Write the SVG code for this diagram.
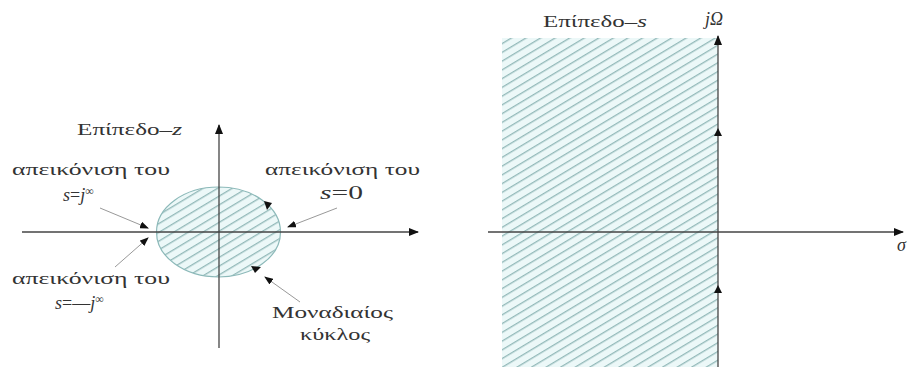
<svg xmlns="http://www.w3.org/2000/svg" width="908" height="367" viewBox="0 0 908 367">
<style>
.t{font-family:"Liberation Serif","DejaVu Serif",serif;font-size:17px;fill:#333}
.f{font-size:18px}
.i{font-style:italic}
.ax{stroke:#444;stroke-width:1.3;fill:none}
.pt{stroke:#999;stroke-width:1;fill:none}
.ah{fill:#111}
</style>
<defs>
<pattern id="hatch" patternUnits="userSpaceOnUse" width="7.5" height="7.5" patternTransform="rotate(-31)">
<rect width="7.5" height="7.5" fill="#ecf8f8"/>
<line x1="0" y1="3.5" x2="7.5" y2="3.5" stroke="#8ab3b3" stroke-width="1.2"/>
</pattern>
<marker id="arr" markerWidth="10" markerHeight="8" refX="9" refY="4" orient="auto" markerUnits="userSpaceOnUse">
<path d="M0,0 L10,4 L0,8 z" fill="#111"/>
</marker>
<marker id="arrs" markerWidth="9" markerHeight="7" refX="8" refY="3.5" orient="auto" markerUnits="userSpaceOnUse">
<path d="M0,0 L9,3.5 L0,7 z" fill="#111"/>
</marker>
</defs>

<g id="z-plane">
<ellipse cx="218.5" cy="232" rx="62" ry="45" fill="url(#hatch)" stroke="#8cb9b9" stroke-width="1.2"/>
<text class="t" x="77" y="135" textLength="105" lengthAdjust="spacingAndGlyphs">Επίπεδο–<tspan class="i">z</tspan></text>
</g>

<g id="s-plane">
<rect x="502" y="38" width="216" height="329" fill="url(#hatch)"/>
<text class="t" x="543" y="27" textLength="104" lengthAdjust="spacingAndGlyphs">Επίπεδο–<tspan class="i">s</tspan></text>
<text class="t f i" x="705" y="25">jΩ</text>
<text class="t f i" x="897" y="251">σ</text>
</g>

<g id="label-jinf">
<text class="t" x="12" y="175" textLength="158" lengthAdjust="spacingAndGlyphs">απεικόνιση του</text>
<text class="t f" x="63" y="201"><tspan class="i">s</tspan>=<tspan class="i">j</tspan><tspan font-size="12" dy="-6">∞</tspan></text>
</g>
<g id="label-s0">
<text class="t" x="265" y="175" textLength="155" lengthAdjust="spacingAndGlyphs">απεικόνιση του</text>
<text class="t f" x="320" y="199" textLength="43" lengthAdjust="spacingAndGlyphs"><tspan class="i">s</tspan>=0</text>
</g>
<g id="label-minusjinf">
<text class="t" x="12" y="284" textLength="158" lengthAdjust="spacingAndGlyphs">απεικόνιση του</text>
<text class="t f" x="55" y="309"><tspan class="i">s</tspan>=—<tspan class="i">j</tspan><tspan font-size="12" dy="-6">∞</tspan></text>
</g>
<g id="label-unit">
<text class="t" x="272" y="318" textLength="121" lengthAdjust="spacingAndGlyphs">Μοναδιαίος</text>
<text class="t" x="300" y="340" textLength="70" lengthAdjust="spacingAndGlyphs">κύκλος</text>
</g>

<g id="connectors">
<line class="ax" x1="22" y1="232" x2="418" y2="232" marker-end="url(#arr)"/>
<line class="ax" x1="219" y1="348" x2="219" y2="125" marker-end="url(#arr)"/>
<line class="ax" x1="488" y1="232" x2="903" y2="232" marker-end="url(#arr)"/>
<line class="ax" x1="718" y1="367" x2="718" y2="36" marker-end="url(#arr)"/>
<path class="ah" d="M718,128 L722,136 L714,136 z"/>
<path class="ah" d="M718,285 L722,293 L714,293 z"/>
<path class="ah" d="M264,201 L272,203 L267,210 z"/>
<path class="ah" d="M261,267 L251,266 L255,273 z"/>
<line class="pt" x1="100" y1="208" x2="148" y2="228" marker-end="url(#arrs)"/>
<line class="pt" x1="337" y1="208" x2="288" y2="227" marker-end="url(#arrs)"/>
<line class="pt" x1="115" y1="267" x2="148" y2="238" marker-end="url(#arrs)"/>
<line class="pt" x1="300" y1="302" x2="265" y2="277" marker-end="url(#arrs)"/>
</g>
</svg>
